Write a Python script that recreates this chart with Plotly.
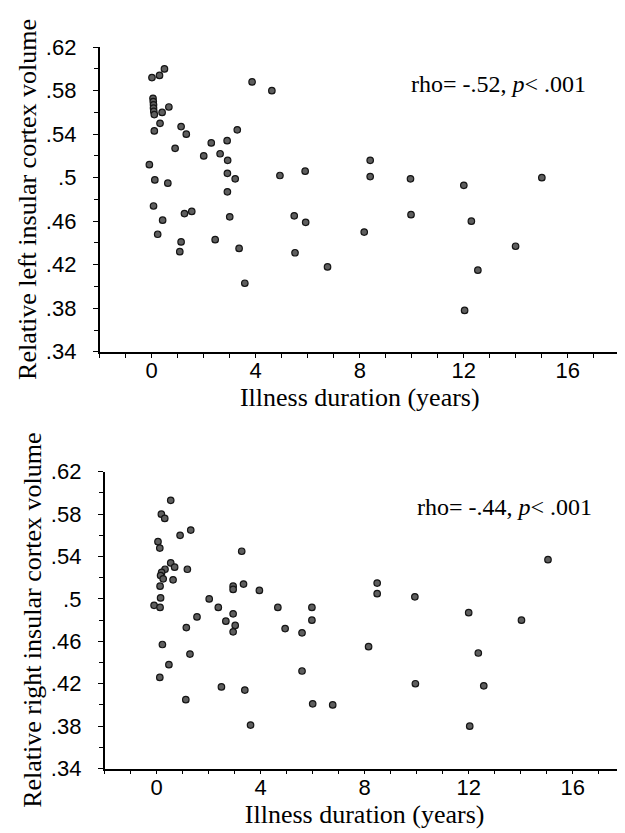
import plotly.graph_objects as go

# illness duration (years) vs relative insular cortex volume
left_dur = [0.01, 0.30, 0.49, 0.05, 0.06, 0.07, 0.07, 0.08, 0.10, 0.40, 0.66, 0.32,
            0.10, 1.13, 1.33, 0.90, -0.09, 0.12, 0.62, 2.00, 2.29, 2.63, 2.90, 2.92,
            3.29, 2.91, 3.21, 2.91, 3.86, 4.62, 4.93, 5.90, 8.40, 8.40, 9.95, 12.00,
            15.00, 9.97, 0.07, 0.42, 0.23, 1.26, 1.54, 1.13, 1.08, 3.00, 2.44, 3.36,
            3.58, 5.48, 5.92, 5.51, 6.76, 8.17, 12.29, 13.99, 12.54, 12.03]
left_vol = [0.592, 0.594, 0.600, 0.573, 0.570, 0.567, 0.564, 0.561, 0.558, 0.560, 0.565, 0.550,
            0.543, 0.547, 0.540, 0.527, 0.512, 0.498, 0.495, 0.520, 0.532, 0.522, 0.534, 0.516,
            0.544, 0.504, 0.499, 0.487, 0.588, 0.580, 0.502, 0.506, 0.516, 0.501, 0.499, 0.493,
            0.500, 0.466, 0.474, 0.461, 0.448, 0.467, 0.469, 0.441, 0.432, 0.464, 0.443, 0.435,
            0.403, 0.465, 0.459, 0.431, 0.418, 0.450, 0.460, 0.437, 0.415, 0.378]

right_dur = [0.54, 0.18, 0.31, 0.90, 1.31, 0.05, 0.12, 3.27, 0.54, 0.69, 0.32, 0.19,
             0.15, 0.25, 0.63, 1.18, 0.13, 0.15, -0.10, 0.13, 2.94, 2.94, 3.34, 3.95,
             2.02, 2.37, 1.55, 2.94, 2.66, 3.02, 2.94, 1.14, 0.22, 1.28, 4.66, 5.97,
             5.97, 4.94, 5.59, 0.47, 0.12, 2.49, 1.12, 3.39, 3.61, 5.59, 6.00, 6.77,
             8.15, 9.95, 12.00, 14.03, 12.37, 12.58, 12.04, 8.48, 8.48, 9.93, 15.05]
right_vol = [0.593, 0.580, 0.576, 0.560, 0.565, 0.554, 0.548, 0.545, 0.534, 0.530, 0.528, 0.525,
             0.522, 0.519, 0.518, 0.528, 0.512, 0.501, 0.494, 0.492, 0.512, 0.509, 0.514, 0.508,
             0.500, 0.492, 0.483, 0.486, 0.479, 0.475, 0.469, 0.473, 0.457, 0.448, 0.492, 0.492,
             0.480, 0.472, 0.468, 0.438, 0.426, 0.417, 0.405, 0.414, 0.381, 0.432, 0.401, 0.400,
             0.455, 0.420, 0.487, 0.480, 0.449, 0.418, 0.380, 0.515, 0.505, 0.502, 0.537]

y_ticks = [0.34, 0.38, 0.42, 0.46, 0.50, 0.54, 0.58, 0.62]
y_labels = ['.34', '.38', '.42', '.46', '.5', '.54', '.58', '.62']
stats = ['rho= -.52, <i>p</i>< .001', 'rho= -.44, <i>p</i>< .001']

SERIF = 'Liberation Serif, Times New Roman, serif'
SANS = 'Liberation Sans, Arial, sans-serif'

marker = dict(size=6.5, color='#5e5e5e', line=dict(color='#151515', width=1.2))

fig = go.Figure()
fig.add_trace(go.Scatter(x=left_dur, y=left_vol, mode='markers', marker=marker,
                         xaxis='x', yaxis='y', showlegend=False))
fig.add_trace(go.Scatter(x=right_dur, y=right_vol, mode='markers', marker=marker,
                         xaxis='x2', yaxis='y2', showlegend=False))

xax = dict(range=[-2, 18], tickmode='linear', tick0=0, dtick=4,
           showline=True, linecolor='black', linewidth=1.5, showgrid=False, zeroline=False,
           ticks='outside', ticklen=4, tickcolor='black', tickwidth=1, ticklabelstandoff=-6,
           minor=dict(tickmode='linear', tick0=0, dtick=1, ticks='outside', ticklen=4,
                      tickcolor='black', showgrid=False),
           tickfont=dict(family=SANS, size=22, color='black'),
           title=dict(text='Illness duration (years)', font=dict(family=SERIF, size=26, color='black'),
                      standoff=4))
yax = dict(range=[0.34, 0.62], tickmode='array', tickvals=y_ticks, ticktext=y_labels,
           showline=True, linecolor='black', linewidth=1.8, showgrid=False, zeroline=False,
           ticks='outside', ticklen=5, tickcolor='black', tickwidth=1, ticklabelstandoff=12,
           minor=dict(tickmode='linear', tick0=0.34, dtick=0.02, ticks='outside', ticklen=4,
                      tickcolor='black', showgrid=False),
           tickfont=dict(family=SANS, size=22, color='black'))

fig.update_layout(
    width=625, height=833,
    margin=dict(l=0, r=0, t=0, b=0),
    paper_bgcolor='white', plot_bgcolor='white',
    xaxis=dict(xax, domain=[0.1467, 0.979], anchor='y'),
    yaxis=dict(yax, domain=[0.5894, 0.9664], anchor='x',
               title=dict(text='Relative left insular cortex volume',
                          font=dict(family=SERIF, size=26, color='black'), standoff=2)),
    xaxis2=dict(xax, domain=[0.1547, 0.9867], anchor='y2'),
    yaxis2=dict(yax, domain=[0.0736, 0.4409], anchor='x2',
                title=dict(text='Relative right insular cortex volume',
                           font=dict(family=SERIF, size=26, color='black'), standoff=2)),
)

fig.add_annotation(text=stats[0], xref='paper', yref='paper', x=0.928, y=0.9208,
                   xanchor='right', yanchor='middle', showarrow=False,
                   font=dict(family=SERIF, size=24, color='black'))
fig.add_annotation(text=stats[1], xref='paper', yref='paper', x=0.9376, y=0.3974,
                   xanchor='right', yanchor='middle', showarrow=False,
                   font=dict(family=SERIF, size=24, color='black'))

fig.write_html('out.html')
